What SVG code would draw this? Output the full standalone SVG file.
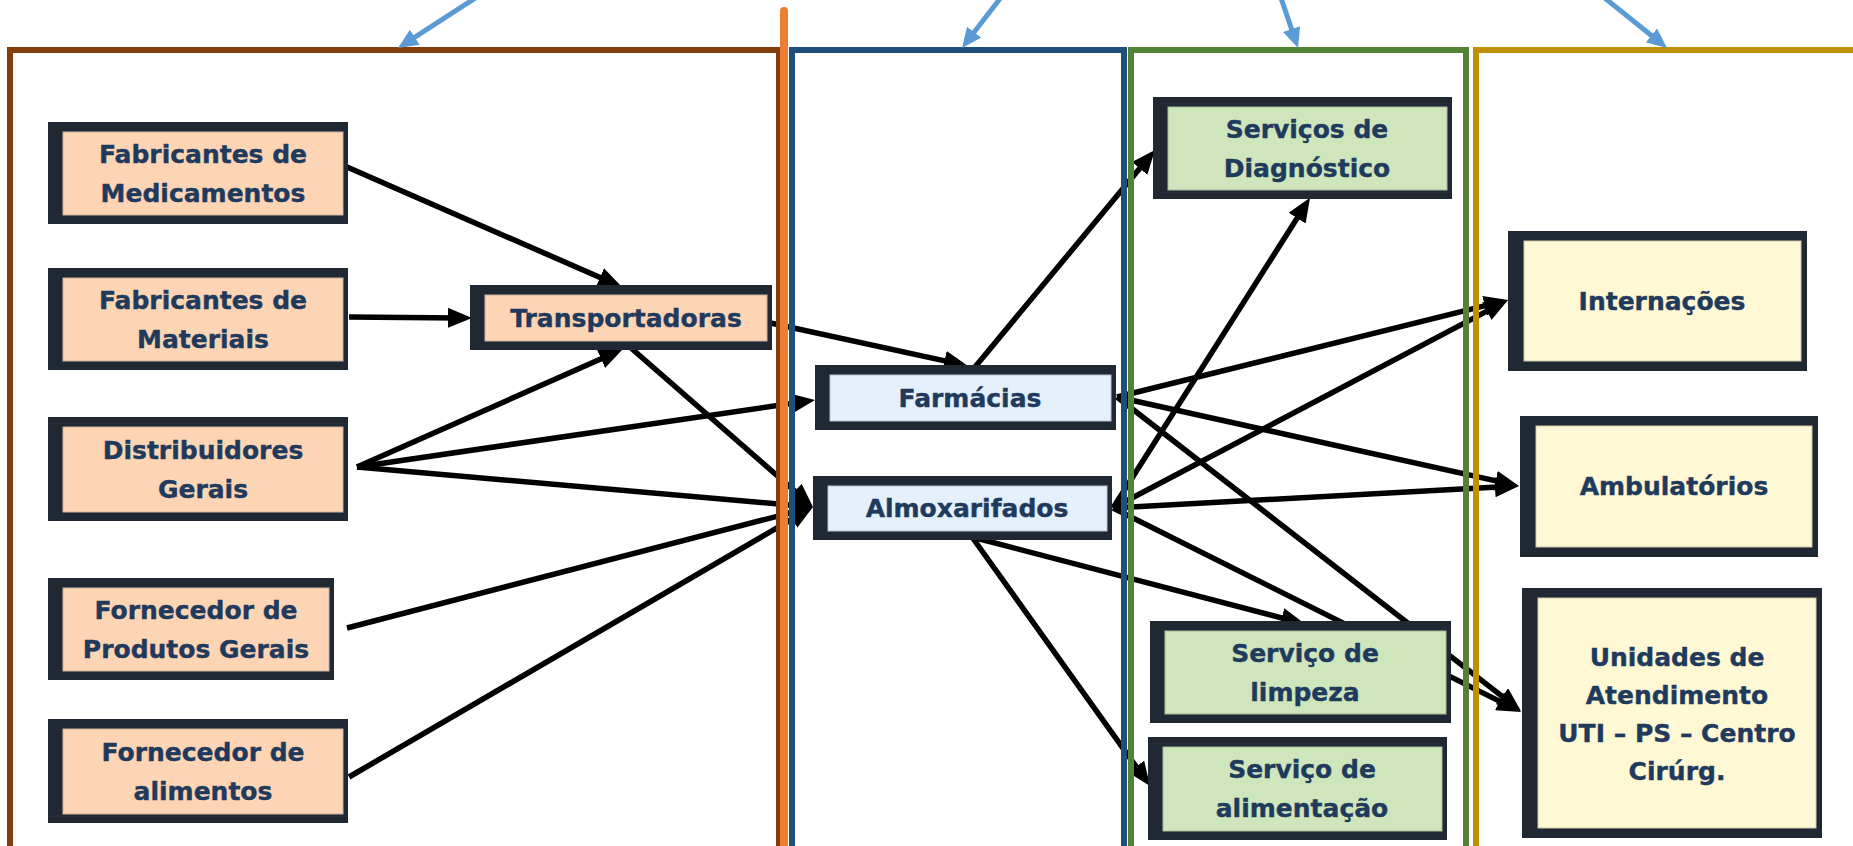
<svg xmlns="http://www.w3.org/2000/svg" width="1853" height="846" viewBox="0 0 1853 846">
<style>
.bd{fill:#1f2833}
.pe{fill:#fdd5b4;stroke:#c9b3a0;stroke-width:1}
.lb{fill:#e4f0fb;stroke:#b6c2cc;stroke-width:1}
.gr{fill:#cfe6bd;stroke:#a8b99b;stroke-width:1}
.ye{fill:#fff8d4;stroke:#cfc9ad;stroke-width:1}
.t{font-family:"DejaVu Sans",sans-serif;font-weight:bold;font-size:25px;fill:#1f3a5c;stroke:#1f3a5c;stroke-width:0.4;text-anchor:middle}
.c{fill:none;stroke:#000;stroke-width:5.5;marker-end:url(#ah)}
.b{fill:none;stroke:#5b9bd5;stroke-width:5;marker-end:url(#bh)}
.fr{fill:none;stroke-width:6}
</style>
<defs>
<marker id="ah" viewBox="0 0 24 20" refX="12" refY="10" markerWidth="24" markerHeight="20" markerUnits="userSpaceOnUse" orient="auto"><path d="M0,0 L24,10 L0,20 z" fill="#000"/></marker>
<marker id="bh" viewBox="0 0 20 18" refX="10" refY="9" markerWidth="20" markerHeight="18" markerUnits="userSpaceOnUse" orient="auto"><path d="M0,0 L20,9 L0,18 z" fill="#5b9bd5"/></marker>
</defs>
<rect width="1853" height="846" fill="#fff"/>

<g id="connectors">
<path class="c" d="M347,167 L611,282.2"/>
<path class="c" d="M349,317 L460,317.9"/>
<path class="c" d="M357,467 L612,353.9"/>
<path class="c" d="M357,467 L803.1,401.7"/>
<path class="c" d="M357,467 L801,506"/>
<path class="c" d="M631,348 L804,499.1"/>
<path class="c" d="M766,322 L956.3,363.4"/>
<path class="c" d="M347,628 L801.4,510"/>
<path class="c" d="M349,777 L802.6,513"/>
<path class="c" d="M975,367 L1147.3,159.2"/>
<path class="c" d="M1113,508 L1303.6,208"/>
<path class="c" d="M1117,397 L1496.4,302.9"/>
<path class="c" d="M1117,397 L1507.3,483.4"/>
<path class="c" d="M1117,397 L1511.5,703.6"/>
<path class="c" d="M1113,508 L1497.4,305.6"/>
<path class="c" d="M1113,508 L1507,486.6"/>
<path class="c" d="M1113,508 L1510.3,706.6"/>
<path class="c" d="M972,537 L1293.4,621"/>
<path class="c" d="M972,537 L1143,776.2"/>
</g>

<g id="frames">
<rect class="fr" x="10" y="50" width="769" height="820" stroke="#843c0c"/>
<rect class="fr" x="792" y="50" width="332" height="820" stroke="#1f4e79" stroke-width="5"/>
<rect class="fr" x="1131" y="50" width="335" height="820" stroke="#538135" stroke-width="5"/>
<rect class="fr" x="1476" y="50" width="420" height="820" stroke="#bf9000"/>
<line x1="784" y1="11" x2="784" y2="860" stroke="#ed7d31" stroke-width="8" stroke-linecap="round"/>
</g>

<g id="pointers">
<path class="b" d="M480,-5 L406.4,42.6"/>
<path class="b" d="M1002,-4 L968.1,40.1"/>
<path class="b" d="M1280,-5 L1294.8,38.5"/>
<path class="b" d="M1601,-5 L1659.2,41.7"/>
</g>

<g id="fab-medicamentos">
<rect class="bd" x="48" y="122" width="300" height="102"/>
<rect class="pe" x="63" y="132" width="280" height="83"/>
<text class="t" x="203" y="163">Fabricantes de</text>
<text class="t" x="203" y="202">Medicamentos</text>
</g>
<g id="fab-materiais">
<rect class="bd" x="48" y="268" width="300" height="102"/>
<rect class="pe" x="63" y="278" width="280" height="83"/>
<text class="t" x="203" y="309">Fabricantes de</text>
<text class="t" x="203" y="348">Materiais</text>
</g>
<g id="distribuidores">
<rect class="bd" x="48" y="417" width="300" height="104"/>
<rect class="pe" x="63" y="427" width="280" height="85"/>
<text class="t" x="203" y="459">Distribuidores</text>
<text class="t" x="203" y="498">Gerais</text>
</g>
<g id="forn-produtos">
<rect class="bd" x="48" y="578" width="286" height="102"/>
<rect class="pe" x="63" y="588" width="266" height="83"/>
<text class="t" x="196" y="619">Fornecedor de</text>
<text class="t" x="196" y="658">Produtos Gerais</text>
</g>
<g id="forn-alimentos">
<rect class="bd" x="48" y="719" width="300" height="104"/>
<rect class="pe" x="63" y="729" width="280" height="85"/>
<text class="t" x="203" y="761">Fornecedor de</text>
<text class="t" x="203" y="800">alimentos</text>
</g>
<g id="transportadoras">
<rect class="bd" x="470" y="285" width="302" height="65"/>
<rect class="pe" x="485" y="295" width="282" height="46"/>
<text class="t" x="626" y="327">Transportadoras</text>
</g>
<g id="farmacias">
<rect class="bd" x="815" y="365" width="301" height="65"/>
<rect class="lb" x="830" y="375" width="281" height="46"/>
<text class="t" x="970" y="407">Farmácias</text>
</g>
<g id="almoxarifados">
<rect class="bd" x="813" y="476" width="299" height="64"/>
<rect class="lb" x="828" y="486" width="279" height="45"/>
<text class="t" x="967" y="517">Almoxarifados</text>
</g>
<g id="diagnostico">
<rect class="bd" x="1153" y="97" width="299" height="102"/>
<rect class="gr" x="1168" y="107" width="279" height="83"/>
<text class="t" x="1307" y="138">Serviços de</text>
<text class="t" x="1307" y="177">Diagnóstico</text>
</g>
<g id="limpeza">
<rect class="bd" x="1150" y="621" width="301" height="102"/>
<rect class="gr" x="1165" y="631" width="281" height="83"/>
<text class="t" x="1305" y="662">Serviço de</text>
<text class="t" x="1305" y="701">limpeza</text>
</g>
<g id="alimentacao">
<rect class="bd" x="1148" y="737" width="299" height="103"/>
<rect class="gr" x="1163" y="747" width="279" height="84"/>
<text class="t" x="1302" y="778">Serviço de</text>
<text class="t" x="1302" y="817">alimentação</text>
</g>
<g id="internacoes">
<rect class="bd" x="1508" y="231" width="299" height="140"/>
<rect class="ye" x="1524" y="241" width="277" height="120"/>
<text class="t" x="1662" y="310">Internações</text>
</g>
<g id="ambulatorios">
<rect class="bd" x="1520" y="416" width="298" height="141"/>
<rect class="ye" x="1536" y="426" width="276" height="121"/>
<text class="t" x="1674" y="495">Ambulatórios</text>
</g>
<g id="unidades">
<rect class="bd" x="1522" y="588" width="300" height="250"/>
<rect class="ye" x="1538" y="598" width="278" height="230"/>
<text class="t" x="1677" y="666">Unidades de</text>
<text class="t" x="1677" y="704">Atendimento</text>
<text class="t" x="1677" y="742">UTI – PS – Centro</text>
<text class="t" x="1677" y="780">Cirúrg.</text>
</g>
</svg>
